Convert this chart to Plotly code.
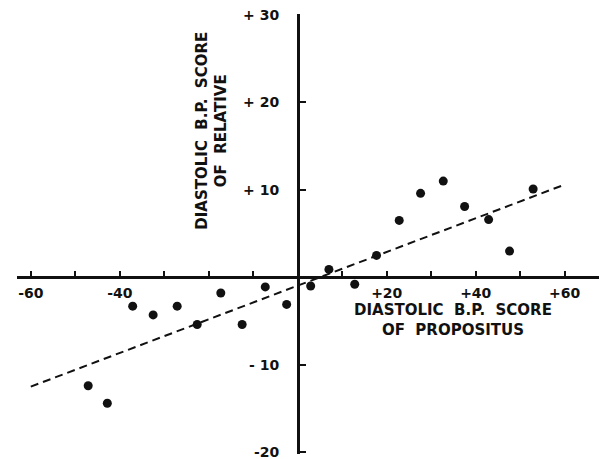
import plotly.graph_objects as go

# Data
propositus = [-47.1, -42.8, -37.1, -32.5, -27.1, -22.6, -17.3, -12.5, -7.3, -2.5,
              2.9, 7.0, 12.8, 17.7, 22.8, 27.6, 32.7, 37.5, 42.9, 47.6, 52.9]
relative = [-12.4, -14.4, -3.3, -4.3, -3.3, -5.4, -1.8, -5.4, -1.1, -3.1,
            -1.0, 0.9, -0.8, 2.5, 6.5, 9.6, 11.0, 8.1, 6.6, 3.0, 10.1]
fit_x = [-60, 60]
fit_y = [-12.5, 10.6]

x_tickvals = [-60, -50, -40, -30, -20, -10, 10, 20, 30, 40, 50, 60]
x_ticktext = ["-60", "", "-40", "", "", "", "", "+20", "", "+40", "", "+60"]
y_tickvals = [-20, -10, 10, 20, 30]
y_ticktext = ["-20", "- 10", "+ 10", "+ 20", "+ 30"]

x_range = [-63.1, 69.5]
y_range = [-20.2, 30.1]

font_family = "DejaVu Sans"
ink = "#111111"

fig = go.Figure()
fig.add_trace(go.Scatter(
    x=fit_x, y=fit_y, mode="lines",
    line=dict(color=ink, width=2, dash="8px,5px"),
    showlegend=False, hoverinfo="skip"))
fig.add_trace(go.Scatter(
    x=propositus, y=relative, mode="markers",
    marker=dict(color=ink, size=9),
    showlegend=False))

x_pos = (0 - y_range[0]) / (y_range[1] - y_range[0])
y_pos = (0 - x_range[0]) / (x_range[1] - x_range[0])

tick_font = dict(family=font_family, size=14, color=ink, weight="bold")
title_font = dict(family=font_family, size=15, color=ink, weight="bold")

# the page body adds an 8px offset, so the figure is sized to fit inside it
fig.update_layout(
    width=599, height=451,
    margin=dict(l=9, r=0, t=6, b=5),
    paper_bgcolor="white", plot_bgcolor="white",
    font=dict(family=font_family, color=ink, size=14),
    xaxis=dict(range=x_range, anchor="free", position=x_pos, automargin=False,
               showline=True, linecolor=ink, linewidth=2.5,
               showgrid=False, zeroline=False,
               ticks="inside", ticklen=6, tickwidth=2, tickcolor=ink,
               tickvals=x_tickvals, ticktext=x_ticktext,
               tickfont=tick_font, ticklabelstandoff=2,
               ticklabeloverflow="allow"),
    yaxis=dict(range=y_range, anchor="free", position=y_pos, automargin=False,
               showline=True, linecolor=ink, linewidth=2.5,
               showgrid=False, zeroline=False,
               ticks="inside", ticklen=6, tickwidth=2, tickcolor=ink,
               tickvals=y_tickvals, ticktext=y_ticktext,
               tickfont=tick_font, ticklabelstandoff=15,
               ticklabeloverflow="allow"),
    annotations=[
        dict(x=34.8, y=-4.85, xref="x", yref="y", showarrow=False,
             text="DIASTOLIC  B.P.  SCORE<br>OF  PROPOSITUS",
             font=title_font),
        dict(x=-19.2, y=16.8, xref="x", yref="y", showarrow=False, textangle=-90,
             text="DIASTOLIC  B.P.  SCORE<br>OF  RELATIVE",
             font=title_font),
    ],
)

fig.write_html("out.html")
